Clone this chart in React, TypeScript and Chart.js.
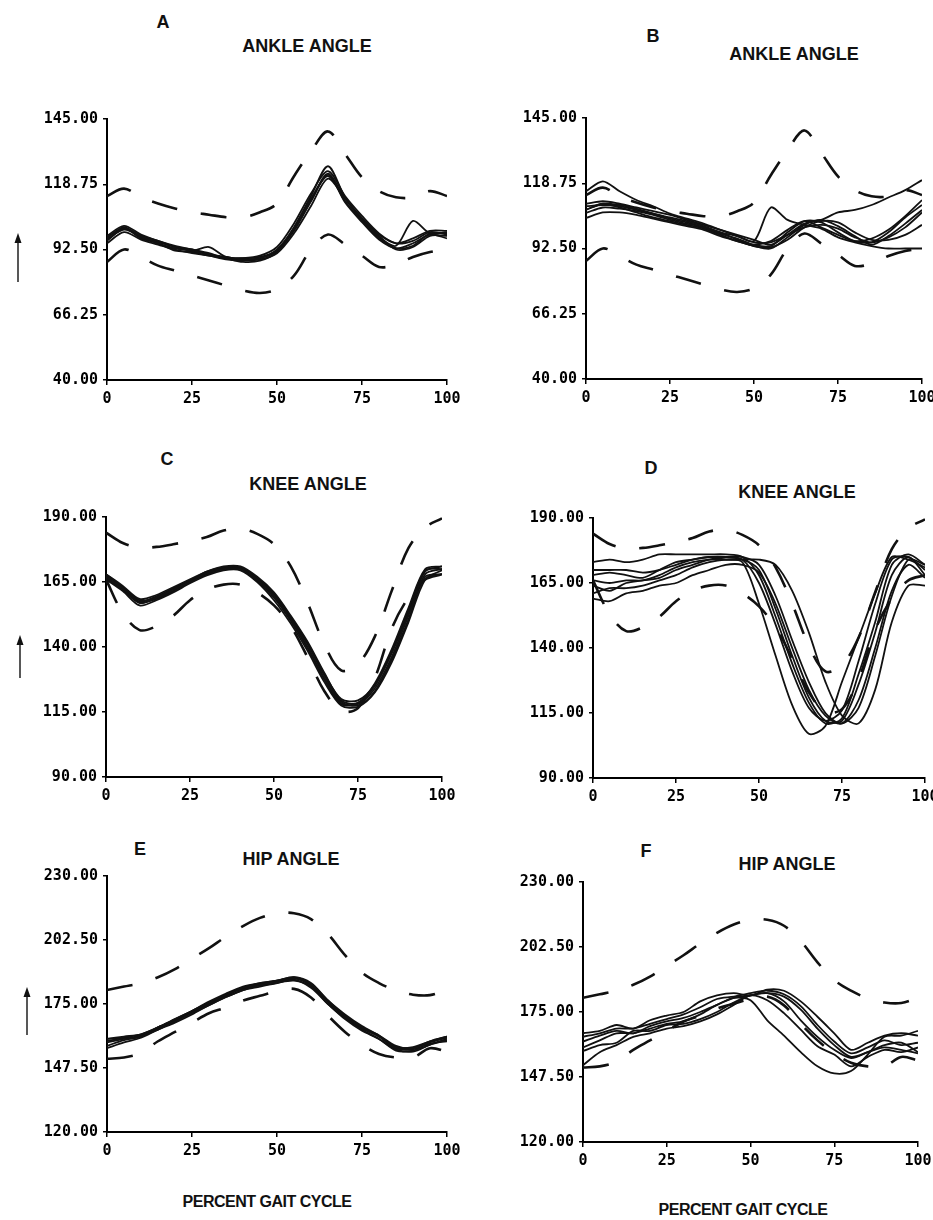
import React, { useEffect, useRef } from 'react';
import { Chart, registerables } from 'chart.js';

Chart.register(...registerables);

// percent of gait cycle at which every curve is sampled
const pct = [0, 5, 10, 15, 20, 25, 30, 35, 40, 45, 50, 55, 60, 65, 70, 75, 80, 85, 90, 95, 100];
const pctTicks = [0, 25, 50, 75, 100];

const ankleTicks = [40, 66.25, 92.5, 118.75, 145];
const kneeTicks = [90, 115, 140, 165, 190];
const hipTicks = [120, 147.5, 175, 202.5, 230];

// normal ranges (dashed)
const ankleUpper = [114, 117, 113.5, 111, 109, 107.5, 106.5, 105.5, 105.5, 107.5, 111, 122, 132, 140, 131, 121.5, 116, 113.5, 113.5, 116, 114];
const ankleLower = [87.5, 92.5, 89.5, 86, 84, 82, 80, 78, 76, 75, 76.5, 82, 92.5, 98.5, 94.5, 90, 85.5, 86.5, 89.5, 91.5, 92.5];
const kneeUpper = [184, 180, 178.2, 178.5, 179.5, 180.8, 182.3, 184.8, 185.5, 183.5, 179.5, 171, 157, 141, 131, 133.5, 144, 161.5, 178, 186, 189.5];
const kneeLower = [166, 153, 146.5, 148, 152, 158, 162, 164, 164, 161, 156, 148, 136, 123, 115.5, 116.5, 128, 147, 159, 166, 168];
const hipUpper = [181, 182.5, 184, 186.5, 190, 194.5, 199, 204, 208.5, 212, 214, 214, 211.5, 205, 196, 188.5, 184, 180.8, 179, 178.8, 181];
const hipLower = [151.5, 152, 154, 159, 163, 167, 171, 173.5, 176.5, 178.5, 180.5, 181.5, 177.8, 170, 163, 157.5, 153.5, 152, 152, 156, 154.5];

// A: ankle angle traces
const ankleA1 = [96, 101, 98, 95, 93, 92, 90.5, 89.5, 88.5, 89, 92.5, 101, 113, 122, 112, 104, 97, 93, 94, 99, 99];
const ankleA2 = [98, 102, 98.5, 96, 94, 92.5, 91, 89, 89, 90, 93.5, 103, 115, 124, 114, 106, 99, 95, 96, 99.5, 98.5];
const ankleA3 = [95, 99.5, 96.5, 94.5, 92.5, 91, 90, 88.5, 88, 88.5, 91, 99, 110, 121, 113, 105, 98, 92.5, 93.5, 98, 98];
const ankleA4 = [97, 101.5, 97.5, 95.5, 93.5, 92, 93.5, 89.5, 89, 89.5, 92, 101.5, 114, 126, 113.5, 104.5, 97.5, 94, 104, 99, 99.5];
const ankleA5 = [96.5, 100.5, 98, 96, 93.5, 92.5, 90.5, 89, 87.5, 88, 91.5, 100, 112, 123, 111.5, 103.5, 96.5, 93, 95, 98.5, 97];
const ankleA6 = [97.5, 101, 97, 95, 92, 91.5, 90, 89, 88.5, 89, 92, 100.5, 112, 122.5, 113, 105, 98.5, 95, 97, 100, 100];

// B: ankle angle traces
const ankleB1 = [115.5, 119.5, 115.5, 112, 109.5, 106.5, 104.5, 102.5, 100, 97.5, 95, 95, 98, 101, 102, 100.5, 97, 95, 97, 101, 107];
const ankleB2 = [108, 110.5, 110, 108.5, 106.5, 105, 103.5, 101.5, 99, 97.5, 95.5, 109, 104, 102, 100.5, 97, 95, 93.5, 92.5, 92.5, 92.5];
const ankleB3 = [110.5, 111.5, 110.5, 109, 107.5, 106, 104, 102, 100, 98, 96, 94, 98, 102.5, 104, 107, 108, 110, 113, 116, 120];
const ankleB4 = [106.8, 109, 108.5, 107.5, 106, 104, 102.5, 101, 98.5, 96.5, 94, 93.5, 99, 103.5, 103, 99, 95.5, 95, 99, 105, 110];
const ankleB5 = [104.8, 107, 107, 106, 104.5, 103, 101.5, 100, 97.5, 95.5, 93.5, 92.5, 97, 102, 104, 101.5, 97.5, 94, 97.5, 102.5, 108];
const ankleB6 = [109.5, 110, 109.5, 108, 106.5, 104.5, 103, 101, 99, 96, 93.5, 93, 96, 101, 103.5, 103, 99, 96, 96, 98, 102];
const ankleB7 = [108.1, 110.5, 109, 107, 105, 103.5, 102, 100.5, 98, 95.5, 94, 95.5, 100, 103.5, 101, 98, 95.5, 96.5, 100, 105.5, 112];

// C: knee angle traces
const kneeC1 = [167, 162.5, 157, 159, 162, 165, 168.5, 170, 170, 166, 159.5, 150.5, 140, 128, 118.5, 118, 124, 136, 152, 168, 170];
const kneeC2 = [168, 163.5, 158.5, 160, 163, 166, 169, 171, 171, 167, 161, 152, 142, 130, 119.5, 118.5, 126, 139, 155, 170, 171];
const kneeC3 = [166, 161.5, 156, 158, 161, 164.5, 167.5, 169.5, 169.5, 165, 158, 149, 138.5, 126.5, 117.5, 117, 122.5, 134, 149.5, 166, 169.5];
const kneeC4 = [167.5, 163, 157.5, 159.5, 162.5, 165.5, 168, 170.5, 170.5, 166.5, 160, 151, 141, 129, 119, 117.5, 123, 135, 150.5, 167, 168];
const kneeC5 = [166.5, 162, 157, 158.5, 161.5, 165, 168, 170, 170, 165.5, 159, 150, 139.5, 127.5, 118, 118.5, 125, 137.5, 153, 169, 171];
const kneeC6 = [168, 163, 158, 159, 162.5, 165.5, 169, 170.5, 170.5, 166.5, 160.5, 151.5, 141.5, 129.5, 120, 119.5, 125.5, 138, 154, 169.5, 170];

// D: knee angle traces
const kneeD1 = [166, 165, 166, 166, 168, 171, 173, 174, 174, 173, 157, 137, 118, 107, 110, 127, 144, 161, 175, 174, 171];
const kneeD2 = [173, 174, 173, 174, 176, 176, 176, 176, 176, 175, 168, 152, 134, 119, 111, 113, 130, 150, 172, 176, 172];
const kneeD3 = [170, 170, 170, 169, 170, 172, 174, 175, 175, 174, 165, 149, 131, 117, 112, 116, 135, 157, 174, 175, 170];
const kneeD4 = [161, 163, 163, 164, 166, 168, 171, 173, 174, 174, 170, 155, 137, 121, 112, 112, 126, 146, 168, 175, 168];
const kneeD5 = [159, 158, 161, 162, 164, 165, 168, 170, 172, 172, 169, 157, 140, 124, 114, 111, 120, 140, 162, 172, 167];
const kneeD6 = [168, 169, 168, 167, 170, 173, 174, 175, 174, 174, 174, 172, 162, 146, 127, 114, 111, 124, 150, 164, 164];
const kneeD7 = [164, 162, 165, 166, 167, 170, 172, 174, 175, 175, 172, 160, 143, 127, 115, 111, 117, 137, 160, 174, 172];

// E: hip angle traces
const hipE1 = [160, 161, 162, 165, 168.5, 172, 175.5, 179, 182, 183.5, 184.5, 186, 183.5, 176.5, 170, 165, 161, 156, 156, 158.5, 160.5];
const hipE2 = [157, 159.5, 161, 164, 167.5, 171, 174.5, 178, 181, 183, 184, 185.5, 182, 175, 168.5, 163.5, 160, 155, 155, 157.5, 159.5];
const hipE3 = [158.5, 160, 161.5, 164.5, 168, 171.5, 175, 179, 181.5, 183.5, 185, 186.5, 184, 176.5, 170.5, 165.5, 161.5, 156.5, 156.5, 159, 161];
const hipE4 = [156, 158.5, 160.5, 164, 167, 170.5, 174.5, 178, 181, 182.5, 184, 185, 182.5, 175, 169, 164, 160, 155.5, 154.5, 157.5, 160];
const hipE5 = [159, 160.5, 162, 165, 168.5, 172, 175.5, 178.5, 182, 184, 185, 186, 183, 176, 169.5, 164.5, 161, 156, 155.5, 158, 159];
const hipE6 = [160, 160.5, 161, 165, 168, 172, 176, 179.5, 182.5, 184, 185, 186.5, 183.5, 176, 170, 165, 161.5, 157, 156, 159, 161];

// F: hip angle traces
const hipF1 = [160, 163, 166, 166, 168, 170, 171, 174, 178, 181, 180, 171.5, 165, 158, 152, 149, 150, 157, 164.5, 165, 167];
const hipF2 = [152.5, 158, 161, 164.5, 166, 168, 169, 171, 174, 178, 182, 180, 174.5, 167.5, 160.5, 157, 152, 156, 159, 158, 160];
const hipF3 = [162.5, 165, 167, 166, 169, 171, 172.5, 175, 178, 181, 182, 183, 179.5, 171.5, 164.5, 159, 155.5, 158, 161, 162, 158];
const hipF4 = [164.5, 166, 168, 168, 170, 172, 174, 177, 180.5, 181.5, 183, 184, 182.5, 177.5, 169.5, 162.5, 157.5, 160, 163, 161, 162];
const hipF5 = [166, 167, 169.5, 168, 171.5, 173.5, 175, 179.5, 182, 183, 182, 184.5, 184, 179.5, 173, 166, 159, 162, 165, 166, 165];
const hipF6 = [158.5, 161, 162, 167, 167, 169.5, 170, 172, 175, 179, 182, 183, 181.5, 176, 168, 161, 156, 158, 160, 159, 157.5];

const LW = 100; // y-axis band width
const PT = 15;
const PR = 24;
const XB = 35;

type PanelProps = {
  axisX: number;
  top: number;
  plotW: number;
  plotH: number;
  yTicks: number[];
  upper: number[];
  lower: number[];
  traces: number[][];
};

function Panel({ axisX, top, plotW, plotH, yTicks, upper, lower, traces }: PanelProps) {
  const ref = useRef<HTMLCanvasElement>(null);
  const w = LW + plotW + PR;
  const h = PT + plotH + XB;

  useEffect(() => {
    if (!ref.current) return;
    const toPts = (vals: number[]) => pct.map((x, i) => ({ x, y: vals[i] }));
    const dashed = (vals: number[]) => ({
      data: toPts(vals),
      borderColor: '#111',
      borderWidth: 2.6,
      borderDash: [26, 24],
      pointRadius: 0,
      tension: 0.35,
      fill: false,
    });
    const solid = (vals: number[]) => ({
      data: toPts(vals),
      borderColor: '#111',
      borderWidth: 1.8,
      pointRadius: 0,
      tension: 0.3,
      fill: false,
    });
    const tickFont = { family: '"DejaVu Sans Mono", monospace', size: 15, weight: 'bold' as const };
    const chart = new Chart(ref.current, {
      type: 'line',
      data: { datasets: [dashed(upper), dashed(lower), ...traces.map(solid)] as any },
      options: {
        responsive: false,
        animation: false,
        devicePixelRatio: 1,
        events: [],
        layout: { padding: { left: 0, top: PT, right: PR, bottom: 0 } },
        plugins: { legend: { display: false }, tooltip: { enabled: false }, title: { display: false } },
        scales: {
          x: {
            type: 'linear',
            min: 0,
            max: 100,
            afterBuildTicks: (s: any) => {
              s.ticks = pctTicks.map((v) => ({ value: v }));
            },
            afterFit: (s: any) => {
              s.height = XB;
              s.paddingLeft = 0;
              s.paddingRight = 0;
            },
            ticks: {
              color: '#000',
              font: tickFont,
              padding: 5,
              autoSkip: false,
              maxRotation: 0,
              callback: (v: any) => String(v),
            },
            grid: { display: true, drawOnChartArea: false, drawTicks: true, tickLength: 5, color: '#000', lineWidth: 1.5 },
            border: { display: true, color: '#000', width: 2 },
          },
          y: {
            type: 'linear',
            min: yTicks[0],
            max: yTicks[yTicks.length - 1],
            afterBuildTicks: (s: any) => {
              s.ticks = yTicks.map((v) => ({ value: v }));
            },
            afterFit: (s: any) => {
              s.width = LW;
              s.paddingTop = 0;
              s.paddingBottom = 0;
            },
            ticks: {
              color: '#000',
              font: tickFont,
              padding: 5,
              autoSkip: false,
              callback: (v: any) => Number(v).toFixed(2),
            },
            grid: { display: true, drawOnChartArea: false, drawTicks: true, tickLength: 4, color: '#000', lineWidth: 1.5 },
            border: { display: true, color: '#000', width: 2 },
          },
        },
      } as any,
    });
    return () => chart.destroy();
  }, []);

  return (
    <canvas
      ref={ref}
      width={w}
      height={h}
      style={{ position: 'absolute', left: axisX - LW, top: top - PT, width: w, height: h, display: 'block' }}
    />
  );
}

function Label({ x, y, text, size }: { x: number; y: number; text: string; size: number }) {
  return (
    <div
      style={{
        position: 'absolute',
        left: x,
        top: y,
        transform: 'translate(-50%, -50%)',
        fontFamily: '"Liberation Sans", Arial, sans-serif',
        fontWeight: 'bold',
        fontSize: size,
        lineHeight: 1,
        whiteSpace: 'nowrap',
        color: '#111',
        letterSpacing: size < 17 ? -0.5 : 0,
      }}
    >
      {text}
    </div>
  );
}

function Arrow({ x, tip, bottom }: { x: number; tip: number; bottom: number }) {
  const len = bottom - tip;
  return (
    <svg style={{ position: 'absolute', left: x - 6, top: tip }} width={12} height={len}>
      <line x1={6} y1={6} x2={6} y2={len} stroke="#111" strokeWidth={1.4} />
      <polygon points={`6,0 2.5,10 9.5,10`} fill="#111" />
    </svg>
  );
}

export default function App() {
  return (
    <div
      style={{
        position: 'absolute',
        left: 0,
        top: 0,
        width: 933,
        height: 1220,
        overflow: 'hidden',
        background: '#fff',
      }}
    >
      <Label x={163} y={22} text="A" size={18} />
      <Label x={307} y={46} text="ANKLE ANGLE" size={18} />
      <Label x={653} y={36} text="B" size={18} />
      <Label x={794} y={54} text="ANKLE ANGLE" size={18} />
      <Label x={167} y={459} text="C" size={18} />
      <Label x={308} y={484} text="KNEE ANGLE" size={18} />
      <Label x={651} y={468} text="D" size={18} />
      <Label x={797} y={492} text="KNEE ANGLE" size={18} />
      <Label x={140} y={849} text="E" size={18} />
      <Label x={291} y={859} text="HIP ANGLE" size={18} />
      <Label x={646} y={851} text="F" size={18} />
      <Label x={787} y={864} text="HIP ANGLE" size={18} />
      <Label x={267} y={1202} text="PERCENT GAIT CYCLE" size={16} />
      <Label x={743} y={1210} text="PERCENT GAIT CYCLE" size={16} />

      <Arrow x={18} tip={233} bottom={282} />
      <Arrow x={20} tip={635} bottom={678} />
      <Arrow x={27} tip={987} bottom={1035} />

      <Panel axisX={107} top={119} plotW={340} plotH={261} yTicks={ankleTicks} upper={ankleUpper} lower={ankleLower}
        traces={[ankleA1, ankleA2, ankleA3, ankleA4, ankleA5, ankleA6]} />
      <Panel axisX={586} top={118} plotW={336} plotH={261} yTicks={ankleTicks} upper={ankleUpper} lower={ankleLower}
        traces={[ankleB1, ankleB2, ankleB3, ankleB4, ankleB5, ankleB6, ankleB7]} />
      <Panel axisX={106} top={517} plotW={336} plotH={260} yTicks={kneeTicks} upper={kneeUpper} lower={kneeLower}
        traces={[kneeC1, kneeC2, kneeC3, kneeC4, kneeC5, kneeC6]} />
      <Panel axisX={593} top={518} plotW={332} plotH={260} yTicks={kneeTicks} upper={kneeUpper} lower={kneeLower}
        traces={[kneeD1, kneeD2, kneeD3, kneeD4, kneeD5, kneeD6, kneeD7]} />
      <Panel axisX={107} top={876} plotW={340} plotH={256} yTicks={hipTicks} upper={hipUpper} lower={hipLower}
        traces={[hipE1, hipE2, hipE3, hipE4, hipE5, hipE6]} />
      <Panel axisX={583} top={882} plotW={335} plotH={260} yTicks={hipTicks} upper={hipUpper} lower={hipLower}
        traces={[hipF1, hipF2, hipF3, hipF4, hipF5, hipF6]} />
    </div>
  );
}
